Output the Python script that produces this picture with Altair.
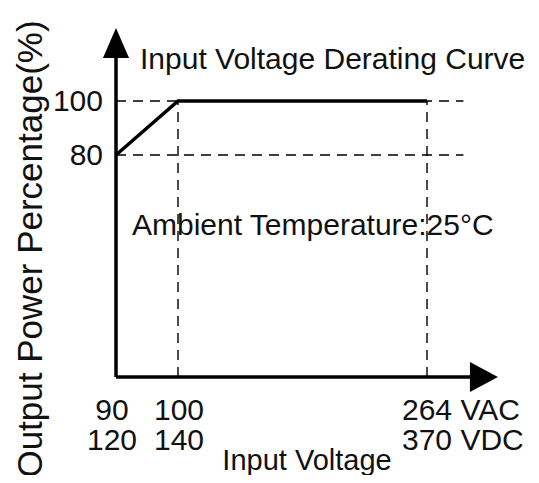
import altair as alt
import pandas as pd

# ---- data ----
curve_voltage = [90, 100, 264]
curve_power = [80, 100, 100]

hgrid_power = [100, 80]          # dashed horizontal guides
vgrid_voltage = [100, 264]       # dashed vertical guides

tick_voltage = [90, 100, 264]
tick_top = ["90", "100", "264 VAC"]
tick_bottom = ["120", "140", "370 VDC"]

ylab_power = [100, 80]
ylab_text = ["100", "80"]

# axis extents (in data units)
X0, Y0 = 90, 0
X_GRID_END = 288
X_AXIS_END = 294
X_ARROW = 301.5
Y_AXIS_END = 116
Y_ARROW = 121.5

FONT = "Liberation Sans"
INK = "#111111"

xs = alt.Scale(domain=[90, 100, 264], range=[108, 170, 419], nice=False, zero=False)
ys = alt.Scale(domain=[0, 80, 100], range=[369, 147, 93], nice=False, zero=False)

X = lambda f: alt.X(f, type="quantitative", scale=xs, axis=None)
Y = lambda f: alt.Y(f, type="quantitative", scale=ys, axis=None)

curve_df = pd.DataFrame({"v": curve_voltage, "p": curve_power})
hgrid_df = pd.DataFrame({"p": hgrid_power, "v0": [X0] * 2, "v1": [X_GRID_END] * 2})
vgrid_df = pd.DataFrame({"v": vgrid_voltage, "p0": [Y0] * 2, "p1": [100] * 2})
axes_df = pd.DataFrame({"v0": [X0, X0], "v1": [X0, X_AXIS_END],
                        "p0": [Y0, Y0], "p1": [Y_AXIS_END, Y0]})
up_df = pd.DataFrame({"v": [X0], "p": [Y_ARROW]})
right_df = pd.DataFrame({"v": [X_ARROW], "p": [Y0]})
ticks_df = pd.DataFrame({"v": tick_voltage, "top": tick_top, "bottom": tick_bottom})
tick_dx = [-4, 1, -25]
tick_align = ["center", "center", "left"]
ylab_df = pd.DataFrame({"p": ylab_power, "t": ylab_text})

hgrid = alt.Chart(hgrid_df).mark_rule(color="#000", strokeWidth=1.4, strokeDash=[10, 7]).encode(
    x=X("v0"), x2="v1", y=Y("p"))
vgrid = alt.Chart(vgrid_df).mark_rule(color="#000", strokeWidth=1.4, strokeDash=[10, 7]).encode(
    x=X("v"), y=Y("p0"), y2="p1")
axes = alt.Chart(axes_df).mark_rule(color="#000", strokeWidth=3.5).encode(
    x=X("v0"), x2="v1", y=Y("p0"), y2="p1")
curve = alt.Chart(curve_df).mark_line(color="#000", strokeWidth=3.5).encode(
    x=X("v"), y=Y("p"))
up = alt.Chart(up_df).mark_point(shape="M0,-1L0.87,1L-0.87,1Z", size=900, filled=True,
                                 color="#000", opacity=1).encode(x=X("v"), y=Y("p"))
right = alt.Chart(right_df).mark_point(shape="M1,0L-1,-1.07L-1,1.07Z", size=784, filled=True,
                                       color="#000", opacity=1).encode(x=X("v"), y=Y("p"))

def txt(**kw):
    d = dict(font=FONT, color=INK, fontSize=30, baseline="alphabetic")
    d.update(kw)
    return d

tick_layers = []
for i in range(len(tick_voltage)):
    sub = ticks_df.iloc[[i]]
    style = txt(align=tick_align[i], dx=tick_dx[i])
    tick_layers.append(alt.Chart(sub).mark_text(**style).encode(
        x=X("v"), y=alt.value(412), text="top:N"))
    tick_layers.append(alt.Chart(sub).mark_text(**style).encode(
        x=X("v"), y=alt.value(442), text="bottom:N"))

ylabs = alt.Chart(ylab_df).mark_text(**txt(align="right", fontSize=30, dy=10)).encode(
    x=alt.value(95), y=Y("p"), text="t:N")

title = alt.Chart(pd.DataFrame({"t": ["Input Voltage Derating Curve"]})).mark_text(
    **txt(align="left")).encode(x=alt.value(132), y=alt.value(61), text="t:N")
ambient = alt.Chart(pd.DataFrame({"t": ["Ambient Temperature:25°C"]})).mark_text(
    **txt(align="left")).encode(x=alt.value(124), y=alt.value(227), text="t:N")
xtitle = alt.Chart(pd.DataFrame({"t": ["Input Voltage"]})).mark_text(
    **txt(align="center", fontSize=29)).encode(x=alt.value(299), y=alt.value(462), text="t:N")
ytitle = alt.Chart(pd.DataFrame({"t": ["Output Power Percentage(%)"]})).mark_text(
    **txt(align="center", angle=270, fontSize=35)).encode(x=alt.value(34), y=alt.value(241), text="t:N")

chart = alt.layer(
    hgrid, vgrid, axes, curve, up, right, *tick_layers, ylabs, title, ambient, xtitle, ytitle
).properties(
    width=523, height=467, padding=0, autosize=alt.AutoSizeParams(type="none"),
    background="white"
).configure_view(stroke=None)

chart.save("out.html", embed_options={"renderer": "svg", "actions": False})
